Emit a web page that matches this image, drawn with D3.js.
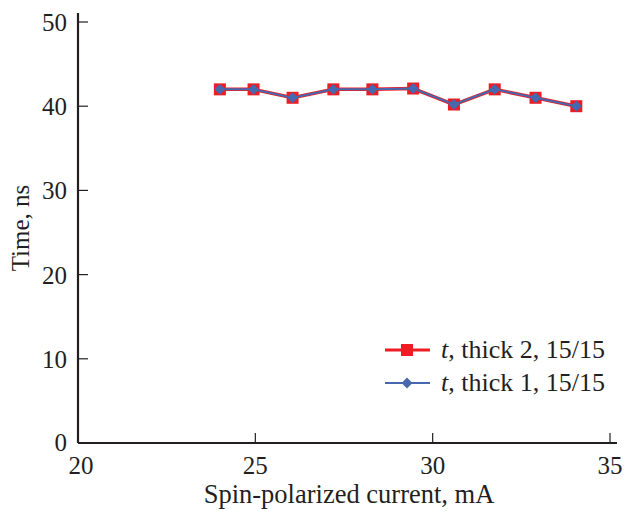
<!DOCTYPE html>
<html>
<head>
<meta charset="utf-8">
<script src="https://cdn.jsdelivr.net/npm/d3@7"></script>
<style>
  body { margin: 0; background: #fff; }
</style>
</head>
<body>
<div id="chart"></div>
<script>
// data
const current = [24, 24.95, 26.05, 27.2, 28.3, 29.45, 30.6, 31.75, 32.9, 34.05];
const thick2 = [42, 42, 41, 42, 42, 42.1, 40.2, 42, 41, 40];
const thick1 = [42, 42, 41, 42, 42, 42.1, 40.2, 42, 41, 40];
const seriesNames = ["thick 2, 15/15", "thick 1, 15/15"];
const xTicks = [20, 25, 30, 35];
const yTicks = [0, 10, 20, 30, 40, 50];

const width = 630, height = 511;
const ink = "#231f20";
const font = "'Liberation Serif', 'Times New Roman', serif";

const svg = d3.select("#chart")
    .append("svg")
    .attr("width", width)
    .attr("height", height);

const x = d3.scaleLinear().domain([20, 35]).range([78, 610]);
const y = d3.scaleLinear().domain([0, 50]).range([443, 22]);

// axes lines
svg.append("line")
    .attr("x1", x(20)).attr("x2", 617)
    .attr("y1", y(0)).attr("y2", y(0))
    .attr("stroke", ink).attr("stroke-width", 2.2);
svg.append("line")
    .attr("x1", x(20)).attr("x2", x(20))
    .attr("y1", y(0)).attr("y2", 13)
    .attr("stroke", ink).attr("stroke-width", 2.2);

// x ticks (inside)
svg.selectAll(".xt")
    .data(xTicks.slice(1))
    .join("line")
        .attr("x1", d => x(d)).attr("x2", d => x(d))
        .attr("y1", y(0)).attr("y2", y(0) - 10)
        .attr("stroke", ink).attr("stroke-width", 1.2);

svg.selectAll(".xl")
    .data(xTicks)
    .join("text")
        .text(d => d)
        .attr("x", d => x(d) + (d === 20 ? 3 : 0))
        .attr("y", 474)
        .attr("text-anchor", "middle")
        .attr("font-family", font)
        .attr("font-size", "25px")
        .attr("fill", ink);

// y ticks (inside)
svg.selectAll(".yt")
    .data(yTicks.slice(1))
    .join("line")
        .attr("x1", x(20)).attr("x2", x(20) + 10)
        .attr("y1", d => y(d)).attr("y2", d => y(d))
        .attr("stroke", ink).attr("stroke-width", 1.2);

svg.selectAll(".yl")
    .data(yTicks)
    .join("text")
        .text(d => d)
        .attr("x", 67)
        .attr("y", d => y(d) + 9 - (d === 0 ? 1 : 0))
        .attr("text-anchor", "end")
        .attr("font-family", font)
        .attr("font-size", "25px")
        .attr("fill", ink);

// axis titles
svg.append("text")
    .text("Spin-polarized current, mA")
    .attr("x", 349)
    .attr("y", 503)
    .attr("text-anchor", "middle")
    .attr("font-family", font)
    .attr("font-size", "26.5px")
    .attr("fill", ink);

svg.append("text")
    .text("Time, ns")
    .attr("transform", "translate(29, 228) rotate(-90)")
    .attr("text-anchor", "middle")
    .attr("font-family", font)
    .attr("font-size", "25px")
    .attr("fill", ink);

// series
const pts2 = current.map((c, i) => [c, thick2[i]]);
const pts1 = current.map((c, i) => [c, thick1[i]]);
const line = d3.line().x(d => x(d[0])).y(d => y(d[1]));

svg.append("path")
    .attr("d", line(pts2))
    .attr("fill", "none")
    .attr("stroke", "#ee1c25")
    .attr("stroke-width", 3.5);

svg.selectAll(".sq")
    .data(pts2)
    .join("rect")
        .attr("x", d => x(d[0]) - 6)
        .attr("y", d => y(d[1]) - 6)
        .attr("width", 12).attr("height", 12)
        .attr("fill", "#ee1c25");

svg.append("path")
    .attr("d", line(pts1))
    .attr("fill", "none")
    .attr("stroke", "#4668ae")
    .attr("stroke-width", 2);

const diamond = d3.symbol().type(d3.symbolDiamond2).size(75);
svg.selectAll(".dm")
    .data(pts1)
    .join("path")
        .attr("d", diamond)
        .attr("transform", d => `translate(${x(d[0])}, ${y(d[1])})`)
        .attr("fill", "#4668ae");

// legend
const legend = [
    { name: seriesNames[0], color: "#ee1c25", sym: "sq", ly: 350 },
    { name: seriesNames[1], color: "#4668ae", sym: "dm", ly: 383 }
];
legend.forEach(l => {
    svg.append("line")
        .attr("x1", 385).attr("x2", 430)
        .attr("y1", l.ly).attr("y2", l.ly)
        .attr("stroke", l.color)
        .attr("stroke-width", l.sym === "sq" ? 3 : 2);
    if (l.sym === "sq") {
        svg.append("rect")
            .attr("x", 401).attr("y", l.ly - 6)
            .attr("width", 12).attr("height", 12)
            .attr("fill", l.color);
    } else {
        svg.append("path")
            .attr("d", diamond)
            .attr("transform", `translate(407, ${l.ly})`)
            .attr("fill", l.color);
    }
    const t = svg.append("text")
        .attr("x", 441)
        .attr("y", l.ly + 8)
        .attr("font-family", font)
        .attr("font-size", "26px")
        .attr("fill", ink);
    t.append("tspan").attr("font-style", "italic").text("t");
    t.append("tspan").text(", " + l.name);
});
</script>
</body>
</html>
